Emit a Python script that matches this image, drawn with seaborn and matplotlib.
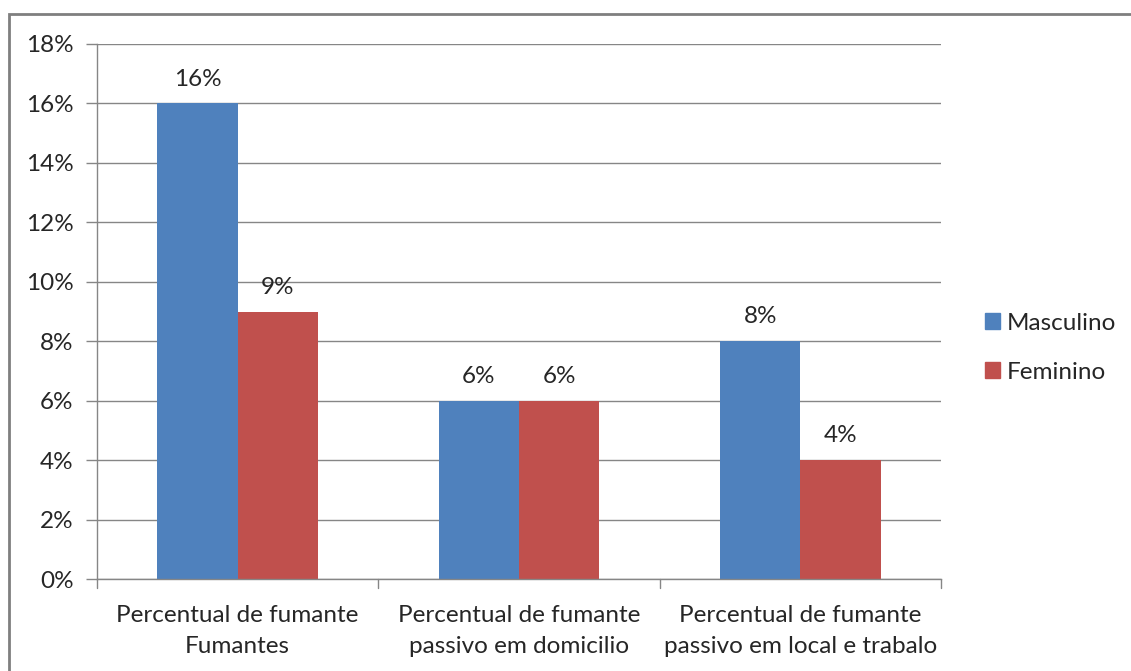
import matplotlib
matplotlib.use("Agg")
import matplotlib.pyplot as plt
import matplotlib.patches as mpatches
import seaborn as sns
import pandas as pd

categories = [
    "Percentual de fumante\nFumantes",
    "Percentual de fumante\npassivo em domicilio",
    "Percentual de fumante\npassivo em local e trabalo",
]
masculino = [16, 6, 8]
feminino = [9, 6, 4]
series_names = ["Masculino", "Feminino"]
colors = ["#4F81BD", "#C0504D"]
y_ticks = [0, 2, 4, 6, 8, 10, 12, 14, 16, 18]

df = pd.DataFrame({
    "categoria": categories * 2,
    "sexo": [series_names[0]] * 3 + [series_names[1]] * 3,
    "valor": masculino + feminino,
})

sns.set_theme(style="white")
plt.rcParams["font.family"] = ["Lato", "DejaVu Sans"]
text_color = "#262626"
grid_color = "#868686"
fs = 17.5

fig = plt.figure(figsize=(11.31, 6.71), dpi=100)
ax = fig.add_axes([97 / 1131, 92 / 671, 844 / 1131, 535 / 671])

sns.barplot(data=df, x="categoria", y="valor", hue="sexo",
            palette=colors, width=0.57, saturation=1, ax=ax,
            legend=False, linewidth=0)

ax.set_ylim(0, 18)
ax.set_xlim(-0.5, 2.5)
ax.set_yticks(y_ticks)
ax.set_yticklabels([f"{v}%" for v in y_ticks], fontsize=fs, color=text_color)
ax.set_xticks([0, 1, 2])
ax.set_xticklabels(categories, fontsize=fs, color=text_color, linespacing=1.58)
ax.tick_params(axis="x", length=0, pad=19)
ax.tick_params(axis="y", length=8, width=1, color=grid_color, left=True, pad=9)
ax.set_xlabel("")
ax.set_ylabel("")

ax.grid(axis="y", color=grid_color, linewidth=1)
ax.set_axisbelow(True)
for side in ["top", "right"]:
    ax.spines[side].set_visible(False)
for side in ["left", "bottom"]:
    ax.spines[side].set_color(grid_color)
    ax.spines[side].set_linewidth(1)

# category separator ticks below the x axis
for xb in [-0.5, 0.5, 1.5, 2.5]:
    ax.plot([xb, xb], [0, -0.3], color=grid_color, linewidth=1, clip_on=False)

for container in ax.containers:
    ax.bar_label(container, labels=[f"{v:.0f}%" for v in container.datavalues],
                 padding=10, fontsize=fs, color=text_color)

handles = [mpatches.Patch(color=c, label=n) for c, n in zip(colors, series_names)]
fig.legend(handles=handles, loc="center left", bbox_to_anchor=(0.871, 0.482),
           frameon=False, fontsize=fs, handlelength=0.6, handleheight=0.6,
           handletextpad=0.3, labelspacing=1.15, labelcolor=text_color,
           borderpad=0, borderaxespad=0)

# outer chart frame
frame = mpatches.Rectangle((9 / 1131, -0.05), 1.2, (671 - 14) / 671 + 0.05,
                           transform=fig.transFigure, fill=False,
                           edgecolor="#7F7F7F", linewidth=2)
fig.add_artist(frame)

fig.savefig("out.png", dpi=100)
